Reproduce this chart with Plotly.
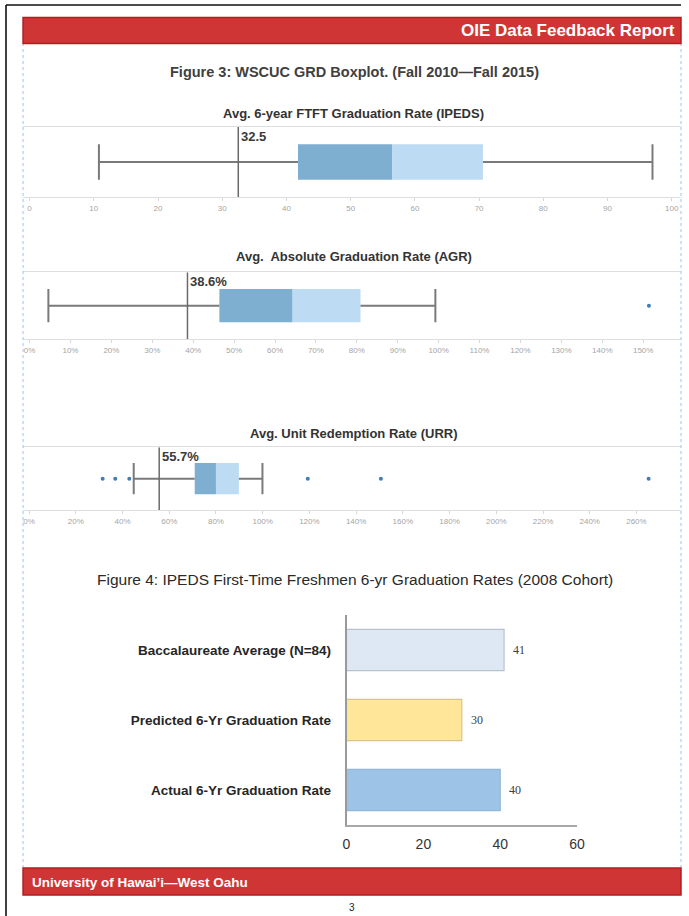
import plotly.graph_objects as go

W, H = 689, 916
# horizontal calibration of the photographed page (observed: shown_x = OFF + SC * layout_x)
OFF, SC = 4.0, 0.98


def lx(t):
    """layout pixel for a target (photographed) pixel, clipped to the page"""
    return min(max((t - OFF) / SC, 0.0), W)


def fx(t):
    return lx(t) / W


def fy(py):
    return 1 - py / H


# ---------------- data ----------------
header_text = "OIE Data Feedback Report"
footer_text = "University of Hawai’i—West Oahu"
page_number = "3"
fig3_title = "Figure 3: WSCUC GRD Boxplot. (Fall 2010—Fall 2015)"
fig4_title = "Figure 4: IPEDS First-Time Freshmen 6-yr Graduation Rates (2008 Cohort)"

box_titles = ["Avg. 6-year FTFT Graduation Rate (IPEDS)",
              "Avg.  Absolute Graduation Rate (AGR)",
              "Avg. Unit Redemption Rate (URR)"]
box_lower = [10.8, 4.6, 44.8]
box_q1 = [41.8, 46.4, 70.9]
box_median = [56.5, 64.3, 80.0]
box_q3 = [70.6, 80.9, 89.8]
box_upper = [97.0, 99.2, 99.9]
box_outliers = [[], [151.4], [31.5, 36.9, 42.9, 119.3, 150.6, 265.2]]
ref_values = [32.5, 38.6, 55.7]
ref_labels = ["32.5", "38.6%", "55.7%"]
tick_values = [list(range(0, 101, 10)), list(range(0, 151, 10)), list(range(0, 261, 20))]
tick_suffix = ["", "%", "%"]

bar_categories = ["Actual 6-Yr Graduation Rate",
                  "Predicted 6-Yr Graduation Rate",
                  "Baccalaureate Average (N=84)"]
bar_values = [40, 30, 41]
bar_ticks = [0, 20, 40, 60]

# ---------------- styles / positions ----------------
SANS = "Liberation Sans, Arial, sans-serif"
RED = "#d03535"
RED_EDGE = "#b21d1f"
DARK_BOX = "#7eaed0"
LIGHT_BOX = "#bddcf3"
WHISKER = "#7a7a7a"
DOT = "#3f7db8"

panel_x = (23, 680)
panel_y = [(126.7, 197.3), (272.3, 339.0), (447.3, 510.0)]
panel_title_y = [113, 257, 434]
panel_zero_px = [29.5, 29.5, 29.0]      # target pixel of value 0
panel_px_per_unit = [6.405, 4.08, 2.33]  # target pixels per unit
box_center, box_half = 0.5, 0.25

fig = go.Figure()
layout_axes = {}
annotations = []

for i in range(3):
    n = "" if i == 0 else str(i + 1)
    xa, ya = "x" + n, "y" + n
    # lower half of the box (Q1 -> median)
    fig.add_trace(go.Bar(orientation="h", y=[box_center], x=[box_median[i] - box_q1[i]],
                         base=[box_q1[i]], width=2 * box_half, marker_color=DARK_BOX,
                         marker_line_width=0, xaxis=xa, yaxis=ya, showlegend=False,
                         hoverinfo="skip"))
    # upper half of the box (median -> Q3)
    fig.add_trace(go.Bar(orientation="h", y=[box_center], x=[box_q3[i] - box_median[i]],
                         base=[box_median[i]], width=2 * box_half, marker_color=LIGHT_BOX,
                         marker_line_width=0, xaxis=xa, yaxis=ya, showlegend=False,
                         hoverinfo="skip"))
    lo, hi, q1, q3 = box_lower[i], box_upper[i], box_q1[i], box_q3[i]
    wx = [lo, q1, None, q3, hi, None, lo, lo, None, hi, hi]
    wy = [box_center, box_center, None, box_center, box_center, None,
          box_center - box_half, box_center + box_half, None,
          box_center - box_half, box_center + box_half]
    fig.add_trace(go.Scatter(x=wx, y=wy, mode="lines", line=dict(color=WHISKER, width=2),
                             xaxis=xa, yaxis=ya, showlegend=False, hoverinfo="skip"))
    if box_outliers[i]:
        fig.add_trace(go.Scatter(x=box_outliers[i], y=[box_center] * len(box_outliers[i]),
                                 mode="markers", marker=dict(color=DOT, size=4),
                                 xaxis=xa, yaxis=ya, showlegend=False, hoverinfo="skip"))
    # reference line
    fig.add_trace(go.Scatter(x=[ref_values[i], ref_values[i]], y=[0, 1], mode="lines",
                             line=dict(color="#6a6a6a", width=1.5),
                             xaxis=xa, yaxis=ya, showlegend=False, hoverinfo="skip"))
    annotations.append(dict(x=ref_values[i], y=1, xref=xa, yref=ya + " domain",
                            text="<b>" + ref_labels[i] + "</b>", showarrow=False,
                            xanchor="left", yanchor="top", xshift=1, yshift=0,
                            font=dict(family=SANS, size=13, color="#3a3a3a")))
    annotations.append(dict(x=fx(353), y=fy(panel_title_y[i]), xref="paper", yref="paper",
                            text="<b>" + box_titles[i] + "</b>", showarrow=False,
                            xanchor="center", yanchor="middle",
                            font=dict(family=SANS, size=13, color="#333333")))
    y0, y1 = panel_y[i]
    # the range follows from where the (clipped) domain edges land on the page
    left_t = OFF + SC * lx(panel_x[0])
    right_t = OFF + SC * lx(panel_x[1])
    rng = [(left_t - panel_zero_px[i]) / panel_px_per_unit[i],
           (right_t - panel_zero_px[i]) / panel_px_per_unit[i]]
    layout_axes["xaxis" + n] = dict(
        domain=[fx(panel_x[0]), fx(panel_x[1])], anchor=ya, range=rng,
        tickvals=tick_values[i], ticktext=[f"{v}{tick_suffix[i]}" for v in tick_values[i]],
        showline=True, mirror=True, linecolor="#dedede", linewidth=1,
        ticks="outside", ticklen=3, tickcolor="#d8d8d8", showgrid=False, zeroline=False,
        tickfont=dict(family=SANS, size=8, color="#a5a5a5"), fixedrange=True)
    layout_axes["yaxis" + n] = dict(
        domain=[fy(y1), fy(y0)], anchor=xa, range=[0, 1], showgrid=False, zeroline=False,
        showticklabels=False, showline=False, ticks="", fixedrange=True)

# ---------------- Figure 4 bars ----------------
bar_fill = ["#9dc3e6", "#ffe699", "#dde8f4"]
bar_edge = ["#93b8da", "#d6c48d", "#b9c3cd"]
fig.add_trace(go.Bar(orientation="h", y=bar_categories, x=bar_values, width=0.59,
                     marker=dict(color=bar_fill, line=dict(color=bar_edge, width=1.2)),
                     xaxis="x4", yaxis="y4", showlegend=False, hoverinfo="skip"))
for c, v in zip(bar_categories, bar_values):
    annotations.append(dict(x=v, y=c, xref="x4", yref="y4", text=str(v), showarrow=False,
                            xanchor="left", xshift=7,
                            font=dict(family="Liberation Serif, serif", size=12, color="#404040")))

layout_axes["xaxis4"] = dict(
    domain=[fx(345.6), fx(575.6)], anchor="y4", range=[0, 60], tickvals=bar_ticks,
    showline=True, linecolor="#a8a8a8", linewidth=2, showgrid=False, zeroline=False,
    ticks="", ticklabelstandoff=5, tickfont=dict(family=SANS, size=14, color="#333333"),
    fixedrange=True)
layout_axes["yaxis4"] = dict(
    domain=[fy(825), fy(615)], anchor="x4", type="category", range=[-0.5, 2.5],
    categoryorder="array", categoryarray=bar_categories,
    showline=True, linecolor="#9a9a9a", linewidth=1.5, showgrid=False, zeroline=False,
    ticks="", ticklabelstandoff=11,
    tickfont=dict(family=SANS, size=13.5, color="#262626", weight="bold"), fixedrange=True)

# ---------------- page decorations ----------------
shapes = [
    # page border
    dict(type="line", xref="paper", yref="paper", x0=fx(6), x1=fx(6), y0=fy(916), y1=fy(5),
         line=dict(color="#111111", width=1.6)),
    dict(type="line", xref="paper", yref="paper", x0=fx(6), x1=1, y0=fy(5), y1=fy(5),
         line=dict(color="#111111", width=1.6)),
    # margin guides
    dict(type="line", xref="paper", yref="paper", x0=fx(23), x1=fx(23), y0=fy(868), y1=fy(44),
         line=dict(color="#9fc3e8", width=1, dash="dot")),
    dict(type="line", xref="paper", yref="paper", x0=fx(680), x1=fx(680), y0=fy(868), y1=fy(44),
         line=dict(color="#9fc3e8", width=1, dash="dot")),
    # header / footer bars
    dict(type="rect", xref="paper", yref="paper", x0=fx(23), x1=fx(680.5), y0=fy(43.5), y1=fy(17.5),
         fillcolor=RED, line=dict(color=RED_EDGE, width=1.5)),
    dict(type="rect", xref="paper", yref="paper", x0=fx(23), x1=fx(681), y0=fy(895), y1=fy(868),
         fillcolor=RED, line=dict(color=RED_EDGE, width=1.5)),
]

annotations += [
    dict(x=fx(675), y=fy(31), xref="paper", yref="paper", text="<b>" + header_text + "</b>",
         showarrow=False, xanchor="right", yanchor="middle",
         font=dict(family=SANS, size=17, color="white")),
    dict(x=fx(30), y=fy(882), xref="paper", yref="paper", text="<b>" + footer_text + "</b>",
         showarrow=False, xanchor="left", yanchor="middle",
         font=dict(family=SANS, size=13.5, color="white")),
    dict(x=fx(351), y=fy(907), xref="paper", yref="paper", text=page_number,
         showarrow=False, xanchor="center", yanchor="middle",
         font=dict(family=SANS, size=10, color="#222222")),
    dict(x=fx(354), y=fy(72), xref="paper", yref="paper", text="<b>" + fig3_title + "</b>",
         showarrow=False, xanchor="center", yanchor="middle",
         font=dict(family=SANS, size=14.5, color="#404040")),
    dict(x=fx(354), y=fy(579), xref="paper", yref="paper", text=fig4_title,
         showarrow=False, xanchor="center", yanchor="middle",
         font=dict(family=SANS, size=15.5, color="#2a2a2a")),
]

fig.update_layout(
    width=W, height=H, margin=dict(l=0, r=0, t=0, b=0), autosize=False,
    paper_bgcolor="white", plot_bgcolor="rgba(0,0,0,0)", barmode="overlay",
    showlegend=False, shapes=shapes, annotations=annotations, **layout_axes)

post_js = (
    "var de=document.documentElement, bd=document.body;"
    "de.style.margin='0px';de.style.padding='0px';de.style.overflow='hidden';"
    "bd.style.margin='0px';bd.style.padding='0px';bd.style.overflow='hidden';"
)

fig.write_html("out.html", config={"displayModeBar": False}, post_script=post_js)
